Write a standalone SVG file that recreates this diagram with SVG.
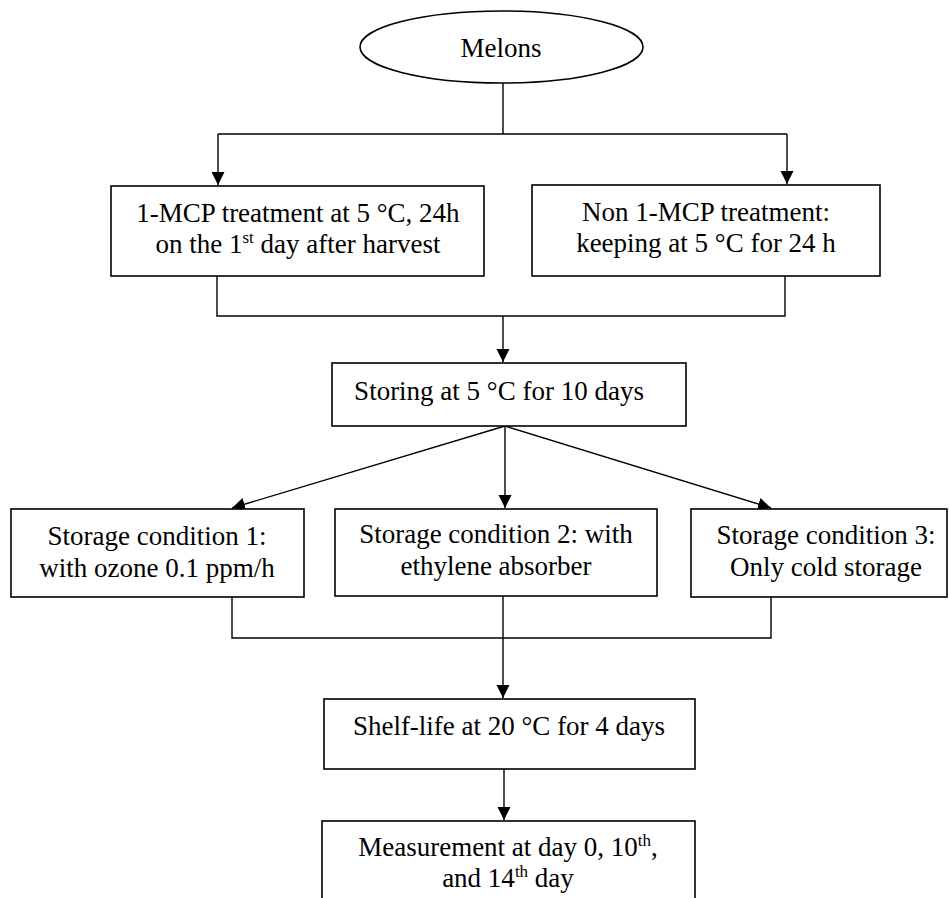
<svg xmlns="http://www.w3.org/2000/svg" width="949" height="898" viewBox="0 0 949 898">
<style>
  .box{fill:#fff;stroke:#000;stroke-width:1.6}
  .t{font-family:"Liberation Serif","Times New Roman",serif;font-size:27px;fill:#000;text-anchor:middle}
  .sup{font-size:17px}
  .c{fill:none;stroke:#000;stroke-width:1.4}
</style>
<defs>
  <marker id="ah" markerUnits="userSpaceOnUse" markerWidth="14" markerHeight="14" refX="13" refY="6.5" orient="auto" viewBox="0 0 14 13">
    <path d="M0,0 L13,6.5 L0,13 z" fill="#000"/>
  </marker>
</defs>
<rect width="949" height="898" fill="#fff"/>
<g id="connectors">
  <path class="c" d="M503,83 V134"/>
  <path class="c" d="M218,134 H787"/>
  <path class="c" d="M218,134 V185" marker-end="url(#ah)"/>
  <path class="c" d="M787,134 V184" marker-end="url(#ah)"/>
  <path class="c" d="M217,276 V316 H785 V276"/>
  <path class="c" d="M503,316 V362" marker-end="url(#ah)"/>
  <path class="c" d="M505,426 L232,508" marker-end="url(#ah)"/>
  <path class="c" d="M505,426 V508" marker-end="url(#ah)"/>
  <path class="c" d="M505,426 L771,508" marker-end="url(#ah)"/>
  <path class="c" d="M232,597 V638 H771 V597"/>
  <path class="c" d="M503,596 V698" marker-end="url(#ah)"/>
  <path class="c" d="M504,769 V820" marker-end="url(#ah)"/>
</g>
<g id="melons">
  <ellipse class="box" cx="501.5" cy="47" rx="141.5" ry="36"/>
  <text class="t" x="501" y="57">Melons</text>
</g>
<g id="mcp">
  <rect class="box" x="111" y="186" width="373" height="90"/>
  <text class="t" x="298" y="222">1-MCP treatment at 5 °C, 24h</text>
  <text class="t" x="298" y="253">on the 1<tspan class="sup" dy="-10">st</tspan><tspan dy="10"> day after harvest</tspan></text>
</g>
<g id="nonmcp">
  <rect class="box" x="532" y="185" width="348" height="91"/>
  <text class="t" x="706" y="221">Non 1-MCP treatment:</text>
  <text class="t" x="706" y="252">keeping at 5 °C for 24 h</text>
</g>
<g id="storing">
  <rect class="box" x="332" y="363" width="354" height="63"/>
  <text class="t" x="499" y="400">Storing at 5 °C for 10 days</text>
</g>
<g id="cond1">
  <rect class="box" x="11" y="509" width="293" height="88"/>
  <text class="t" x="157" y="545">Storage condition 1:</text>
  <text class="t" x="157" y="577">with ozone 0.1 ppm/h</text>
</g>
<g id="cond2">
  <rect class="box" x="335" y="509" width="322" height="87"/>
  <text class="t" x="496" y="543">Storage condition 2: with</text>
  <text class="t" x="496" y="575">ethylene absorber</text>
</g>
<g id="cond3">
  <rect class="box" x="691" y="509" width="256" height="88"/>
  <text class="t" x="826" y="544">Storage condition 3:</text>
  <text class="t" x="826" y="576">Only cold storage</text>
</g>
<g id="shelf">
  <rect class="box" x="324" y="699" width="371" height="70"/>
  <text class="t" x="509" y="735">Shelf-life at 20 °C for 4 days</text>
</g>
<g id="measurement">
  <rect class="box" x="322" y="821" width="373" height="90"/>
  <text class="t" x="508" y="856">Measurement at day 0, 10<tspan class="sup" dy="-10">th</tspan><tspan dy="10">,</tspan></text>
  <text class="t" x="508" y="887">and 14<tspan class="sup" dy="-10">th</tspan><tspan dy="10"> day</tspan></text>
</g>
</svg>
